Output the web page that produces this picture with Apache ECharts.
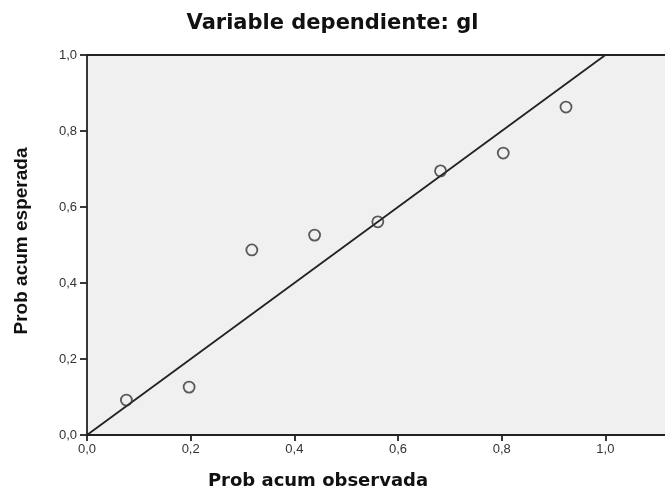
<!DOCTYPE html>
<html><head><meta charset="utf-8">
<script src="https://cdn.jsdelivr.net/npm/echarts@6/dist/echarts.min.js"></script>
<style>html,body{margin:0;padding:0;background:#fff}#c{width:665px;height:493px}</style>
</head><body><div id="c"></div>
<script>
const observed = [0.076, 0.197, 0.318, 0.439, 0.561, 0.682, 0.803, 0.924];
const expected = [0.092, 0.126, 0.487, 0.526, 0.561, 0.695, 0.742, 0.863];
const refLine = [[0, 0], [1, 1]];
const tickValues = [0, 0.2, 0.4, 0.6, 0.8, 1.0];
const titleText = 'Variable dependiente: gl';
const xTitle = 'Prob acum observada';
const yTitle = 'Prob acum esperada';

const fmt = v => Number(v).toFixed(1).replace('.', ',');
const chart = echarts.init(document.getElementById('c'), null, {renderer: 'canvas'});
chart.setOption({
  animation: false,
  backgroundColor: '#fff',
  title: {text: titleText, left: 'center', top: 8,
    textStyle: {fontFamily: 'DejaVu Sans', fontWeight: 'bold', fontSize: 21, color: '#111'}},
  graphic: [
    {type: 'text', x: 318, y: 481, style: {text: xTitle, textAlign: 'center', textVerticalAlign: 'middle',
      font: 'bold 18px "DejaVu Sans"', fill: '#111'}},
    {type: 'text', x: 22, y: 241, rotation: Math.PI / 2, style: {text: yTitle, textAlign: 'center', textVerticalAlign: 'middle',
      font: 'bold 19px "Liberation Sans"', fill: '#111'}}
  ],
  grid: {left: 87, right: 0, top: 55, bottom: 58, show: true, backgroundColor: '#f0f0f0', borderWidth: 0},
  xAxis: {type: 'value', min: 0, max: 1.115, interval: 0.2,
    axisLine: {show: true, onZero: false, lineStyle: {color: '#222', width: 1.8}},
    axisTick: {show: true, length: 6, customValues: tickValues, lineStyle: {color: '#222', width: 1.8}},
    axisLabel: {customValues: tickValues, formatter: fmt, color: '#333', fontFamily: 'Liberation Sans', fontSize: 13, margin: 8},
    splitLine: {show: false}},
  yAxis: {type: 'value', min: 0, max: 1, interval: 0.2,
    axisLine: {show: true, onZero: false, lineStyle: {color: '#222', width: 1.8}},
    axisTick: {show: true, length: 7, lineStyle: {color: '#222', width: 1.8}},
    axisLabel: {formatter: fmt, color: '#333', fontFamily: 'Liberation Sans', fontSize: 13, margin: 10},
    splitLine: {show: false}},
  series: [
    {type: 'line', data: refLine, symbol: 'none', lineStyle: {color: '#222', width: 1.8}, z: 2,
     markLine: {silent: true, symbol: 'none', label: {show: false},
       lineStyle: {color: '#222', width: 1.8, type: 'solid'}, data: [{yAxis: 1}]}},
    {type: 'scatter', data: observed.map((x, i) => [x, expected[i]]), symbol: 'circle', symbolSize: 11,
     itemStyle: {color: 'rgba(0,0,0,0)', borderColor: '#333', borderWidth: 1.8}, z: 3}
  ]
});
</script></body></html>
